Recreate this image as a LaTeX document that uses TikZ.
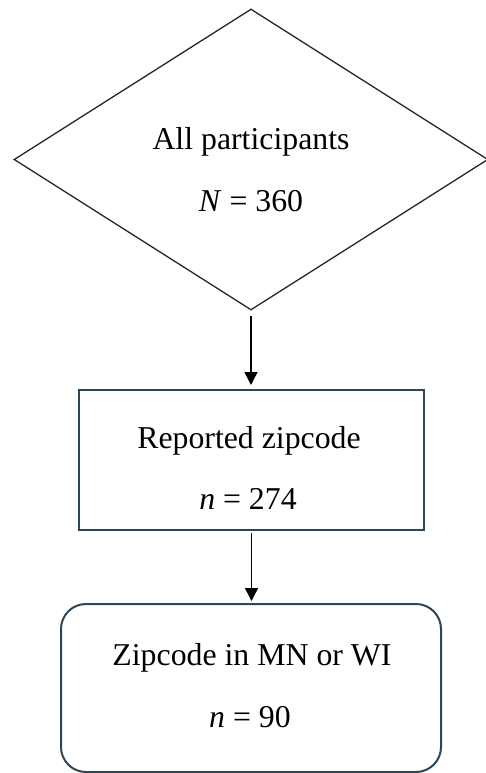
\documentclass[tikz,border=0pt]{standalone}
\usepackage{fontspec}
\setmainfont{Liberation Serif}
\usetikzlibrary{shapes.geometric,arrows.meta}
\definecolor{boxline}{HTML}{2B4657}
\begin{document}
\begin{tikzpicture}[x=1pt,y=-1pt,
  txt/.style={inner sep=0pt,font=\fontsize{31.8}{38}\selectfont},
  conn/.style={draw=black,line width=1.4pt,-{Triangle[length=13pt,width=13pt]}},
  dia/.style={shape=diamond,draw=black!85,line width=1.3pt,inner sep=0pt,minimum width=474pt,minimum height=301pt},
  sq/.style={draw=boxline,line width=2pt,inner sep=0pt,minimum width=345pt,minimum height=140pt},
  rbox/.style={draw=boxline,line width=2pt,rounded corners=25pt,inner sep=0pt,minimum width=380pt,minimum height=168pt}]
\useasboundingbox (0,0) rectangle (486,773);
\node[dia] (d) at (251,159.5) {};
\node[sq] (r) at (251.5,460) {};
\node[rbox] (z) at (251,688) {};
\node[txt] (t1) at (251,142) {All participants};
\node[txt] (t2) at (251,201) {\textit{N} = 360};
\node[txt] (t3) at (249,441) {Reported zipcode};
\node[txt] (t4) at (248,499) {\textit{n} = 274};
\node[txt] (t5) at (252,658) {Zipcode in MN or WI};
\node[txt] (t6) at (250,717) {\textit{n} = 90};
\draw[conn,shorten <=5pt,shorten >=4pt] (d.south) -- (d.south |- r.north);
\draw[conn,shorten <=2pt,shorten >=2pt] (r.south) -- (r.south |- z.north);
\end{tikzpicture}
\end{document}
